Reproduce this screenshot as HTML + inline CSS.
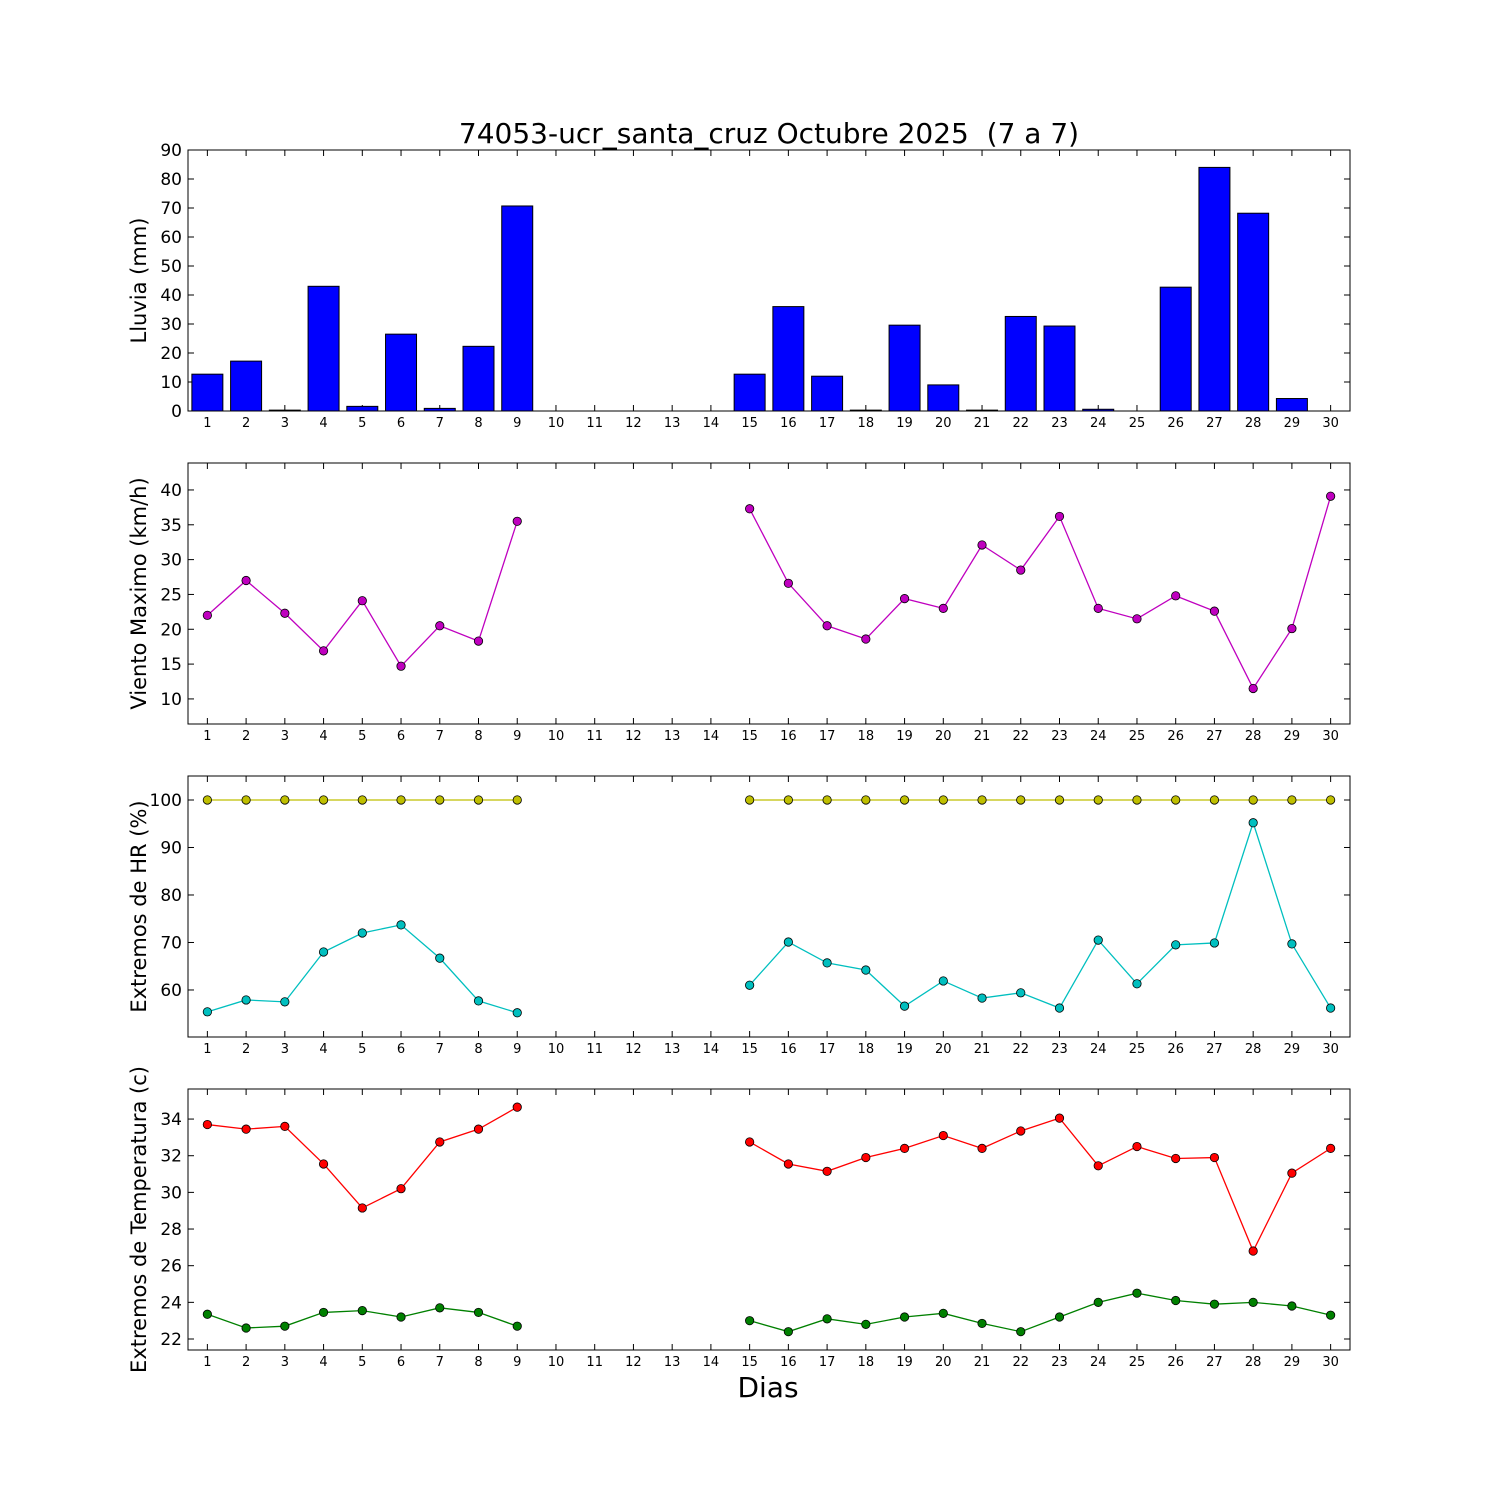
<!DOCTYPE html>
<html><head><meta charset="utf-8"><style>
body{margin:0;background:#fff;}
svg{display:block;font-family:"DejaVu Sans","Liberation Sans",sans-serif;}
text{white-space:pre;}
</style></head><body>
<svg id="chart" width="1500" height="1500" xmlns="http://www.w3.org/2000/svg">
<rect width="1500" height="1500" fill="#fff"/>
<text x="769" y="143" font-size="28" text-anchor="middle">74053-ucr_santa_cruz Octubre 2025  (7 a 7)</text>
<text x="768" y="1397" font-size="28" text-anchor="middle">Dias</text>
</svg>
<script>
const days = Array.from({length:30},(_,i)=>i+1);
const rain = [12.7,17.2,0.3,43,1.6,26.5,0.9,22.3,70.7,null,null,null,null,null,12.7,36,12,0.3,29.6,9,0.3,32.6,29.3,0.6,0,42.7,84,68.2,4.3,0];
const windMax = [22,27,22.3,16.9,24.1,14.7,20.5,18.3,35.5,null,null,null,null,null,37.3,26.6,20.5,18.6,24.4,23,32.1,28.5,36.2,23,21.5,24.8,22.6,11.5,20.1,39.1];
const hrMax = [100,100,100,100,100,100,100,100,100,null,null,null,null,null,100,100,100,100,100,100,100,100,100,100,100,100,100,100,100,100];
const hrMin = [55.4,57.9,57.5,68,72,73.7,66.7,57.7,55.2,null,null,null,null,null,61,70.1,65.7,64.2,56.6,61.9,58.3,59.4,56.2,70.5,61.3,69.5,69.9,95.2,69.7,56.2];
const tMax = [33.7,33.45,33.6,31.55,29.15,30.2,32.75,33.45,34.65,null,null,null,null,null,32.75,31.55,31.15,31.9,32.4,33.1,32.4,33.35,34.05,31.45,32.5,31.85,31.9,26.8,31.05,32.4];
const tMin = [23.35,22.6,22.7,23.45,23.55,23.2,23.7,23.45,22.7,null,null,null,null,null,23,22.4,23.1,22.8,23.2,23.4,22.85,22.4,23.2,24,24.5,24.1,23.9,24,23.8,23.3];
const rainTicks = [0,10,20,30,40,50,60,70,80,90];
const windTicks = [10,15,20,25,30,35,40];
const hrTicks = [60,70,80,90,100];
const tTicks = [22,24,26,28,30,32,34];

const NS="http://www.w3.org/2000/svg";
const svg=document.getElementById('chart');
const X0=188,X1=1350;
const xs=d=>X0+(d-0.5)/30*(X1-X0);
function el(tag,attrs,parent){const e=document.createElementNS(NS,tag);for(const k in attrs)e.setAttribute(k,attrs[k]);(parent||svg).appendChild(e);return e;}

function panel(name,top,bot,ymin,ymax,ticks,label){
  const g=el('g',{});
  
  
  const ys=v=>bot-(v-ymin)/(ymax-ymin)*(bot-top);
  ticks.forEach(t=>{
    const y=ys(t);
    el('line',{x1:X0,x2:X0+6,y1:y,y2:y,stroke:'#000'},g);
    el('line',{x1:X1,x2:X1-6,y1:y,y2:y,stroke:'#000'},g);
    const tx=el('text',{x:X0-6,y:y+6,'font-size':17,'text-anchor':'end'},g);
    
    
    tx.textContent=t;
  });
  days.forEach(d=>{
    const x=xs(d);
    el('line',{x1:x,x2:x,y1:bot,y2:bot-6,stroke:'#000'},g);
    el('line',{x1:x,x2:x,y1:top,y2:top+6,stroke:'#000'},g);
    const tx=el('text',{x:x,y:bot+16,'font-size':13,'text-anchor':'middle'},g);
    
    
    tx.textContent=d;
  });
  const cy=(top+bot)/2;
  const yl=el('text',{x:146,y:cy,'font-size':21,'text-anchor':'middle',transform:`rotate(-90 146 ${cy})`},g);
  
  
  yl.textContent=label;
  return {g,ys,top,bot};
}
function frame(p){el('rect',{x:X0,y:p.top,width:X1-X0,height:p.bot-p.top,fill:'none',stroke:'#000','stroke-width':1},p.g);}
function series(p,vals,color,name){
  let seg=[];const segs=[];
  vals.forEach((v,i)=>{if(v==null){if(seg.length)segs.push(seg);seg=[];}else seg.push([xs(days[i]),p.ys(v)]);});
  if(seg.length)segs.push(seg);
  segs.forEach(s=>{const pl=el('polyline',{points:s.map(q=>q.join(',')).join(' '),fill:'none',stroke:color,'stroke-width':1.3},p.g);
    
    });
  vals.forEach((v,i)=>{if(v==null)return;
    const c=el('circle',{cx:xs(days[i]),cy:p.ys(v),r:4.2,fill:color,stroke:'#000','stroke-width':0.8},p.g);
    
    });
}

const p1=panel('rain',150,411,0,90,rainTicks,'Lluvia (mm)');
rain.forEach((v,i)=>{if(v==null)return;
  const x=xs(days[i])-0.4*(X1-X0)/30,w=0.8*(X1-X0)/30,y=p1.ys(v);
  const r=el('rect',{x:x,y:y,width:w,height:p1.bot-y,fill:'#0000ff',stroke:'#000','stroke-width':1},p1.g);
  
  });
frame(p1);

const p2=panel('wind',463,724,6.4,43.87,windTicks,'Viento Maximo (km/h)');
series(p2,windMax,'#bf00bf','wind-max');frame(p2);

const p3=panel('humidity',776,1037,50.1,105.05,hrTicks,'Extremos de HR (%)');
series(p3,hrMax,'#bfbf00','hr-max');series(p3,hrMin,'#00bfbf','hr-min');frame(p3);

const p4=panel('temperature',1089,1350,21.4,35.64,tTicks,'Extremos de Temperatura (c)');
series(p4,tMax,'#ff0000','temp-max');series(p4,tMin,'#008000','temp-min');frame(p4);
</script>
</body></html>
